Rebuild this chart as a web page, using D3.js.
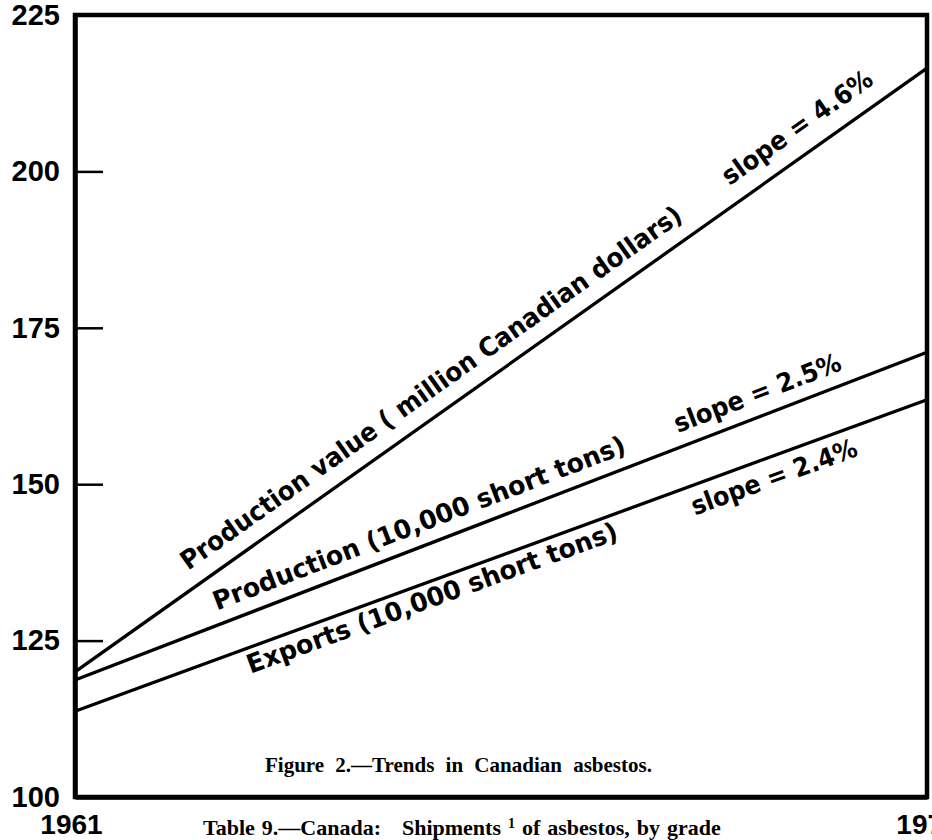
<!DOCTYPE html>
<html>
<head>
<meta charset="utf-8">
<script src="https://cdn.jsdelivr.net/npm/d3@7"></script>
<style>
  body { margin: 0; background: #fff; }
  svg { display: block; }
</style>
</head>
<body>
<svg width="932" height="840"></svg>
<script>
// values (index scale, 1961 and 1971 end points)
const years = [1961, 1971];
const productionValue = [120.0, 216.5];
const production = [118.7, 171.1];
const exportsTons = [113.7, 163.5];

const yTicks = [100, 125, 150, 175, 200, 225];
const xTicks = [1961, 1971];

const seriesNames = [
  "Production value ( million Canadian dollars)",
  "Production (10,000 short tons)",
  "Exports (10,000 short tons)"
];
const slopeTexts = ["slope = 4.6%", "slope = 2.5%", "slope = 2.4%"];

const svg = d3.select("svg");
const plotLeft = 75, plotRight = 927, plotTop = 15, plotBottom = 797;

const x = d3.scaleLinear().domain([1961, 1971]).range([plotLeft, plotRight]);
const y = d3.scaleLinear().domain([100, 225]).range([plotBottom, plotTop]);

// frame (top + right border)
svg.append("rect")
    .attr("x", plotLeft).attr("y", plotTop)
    .attr("width", plotRight - plotLeft).attr("height", plotBottom - plotTop)
    .attr("fill", "none")
    .attr("stroke", "#000")
    .attr("stroke-width", 4.5);

// y axis with inward ticks
const yAxis = svg.append("g")
    .attr("transform", `translate(${plotLeft},0)`)
    .call(d3.axisLeft(y).tickValues(yTicks).tickSizeInner(-28).tickSizeOuter(0).tickPadding(15));
yAxis.select(".domain").attr("stroke-width", 4.5);
yAxis.selectAll(".tick line").attr("stroke-width", 2.5);
yAxis.selectAll(".tick text")
    .attr("font-family", "Liberation Sans, Arial, sans-serif")
    .attr("font-weight", "bold")
    .attr("font-size", 29)
    .attr("fill", "#000");

// x axis
const xAxis = svg.append("g")
    .attr("transform", `translate(0,${plotBottom})`)
    .call(d3.axisBottom(x).tickValues(xTicks).tickFormat(d3.format("d")).tickSize(0).tickPadding(17));
xAxis.select(".domain").attr("stroke-width", 4.5);
xAxis.selectAll(".tick text")
    .attr("font-family", "Liberation Sans, Arial, sans-serif")
    .attr("font-weight", "bold")
    .attr("font-size", 28)
    .attr("fill", "#000");
xAxis.selectAll(".tick").filter(d => d === 1961).select("text").attr("dx", -4);

const series = [productionValue, production, exportsTons];

const line = d3.line()
    .x((d, i) => x(years[i]))
    .y(d => y(d));

svg.append("g")
  .selectAll("path")
  .data(series)
  .enter()
  .append("path")
    .attr("d", d => line(d))
    .attr("fill", "none")
    .attr("stroke", "#000")
    .attr("stroke-width", 3.3);

// label placement along each line: start pixel, perpendicular offset, length
const labelSpots = [
  { name: [198, -17, 608], slope: [740, -18, 178] },
  { name: [222, -14, 440], slope: [683, -14, 177] },
  { name: [242, 25, 393],  slope: [685, 29, 175] }
];

function yOnLine(vals, px) {
  const t = (x.invert(px) - years[0]) / (years[1] - years[0]);
  return y(vals[0] + t * (vals[1] - vals[0]));
}

const labels = svg.append("g")
    .attr("font-family", "DejaVu Sans, Verdana, sans-serif")
    .attr("font-weight", "bold")
    .attr("font-size", 26)
    .attr("fill", "#000");

series.forEach((vals, i) => {
  const ang = Math.atan2(y(vals[1]) - y(vals[0]), x(years[1]) - x(years[0])) * 180 / Math.PI;
  [[seriesNames[i], labelSpots[i].name], [slopeTexts[i], labelSpots[i].slope]].forEach(([txt, spot]) => {
    labels.append("text")
        .attr("transform", `translate(${spot[0]},${yOnLine(vals, spot[0])}) rotate(${ang})`)
        .attr("y", spot[1])
        .attr("textLength", spot[2])
        .attr("lengthAdjust", "spacingAndGlyphs")
        .style("white-space", "pre")
        .text(txt);
  });
});

// captions
svg.append("text")
    .attr("x", 265).attr("y", 772)
    .attr("font-family", "Liberation Serif, Times New Roman, serif")
    .attr("font-weight", "bold")
    .attr("font-size", 21)
    .attr("word-spacing", 6)
    .text("Figure 2.\u2014Trends in Canadian asbestos.");

const tbl = svg.append("text")
    .attr("x", 203).attr("y", 835)
    .attr("font-family", "Liberation Serif, Times New Roman, serif")
    .attr("font-weight", "bold")
    .attr("font-size", 22)
    .attr("word-spacing", 1.5)
    .style("white-space", "pre");
tbl.append("tspan").text("Table 9.\u2014Canada:   Shipments ");
tbl.append("tspan").attr("font-size", 14).attr("dy", -7).text("1");
tbl.append("tspan").attr("dy", 7).text(" of asbestos, by grade");
</script>
</body>
</html>
